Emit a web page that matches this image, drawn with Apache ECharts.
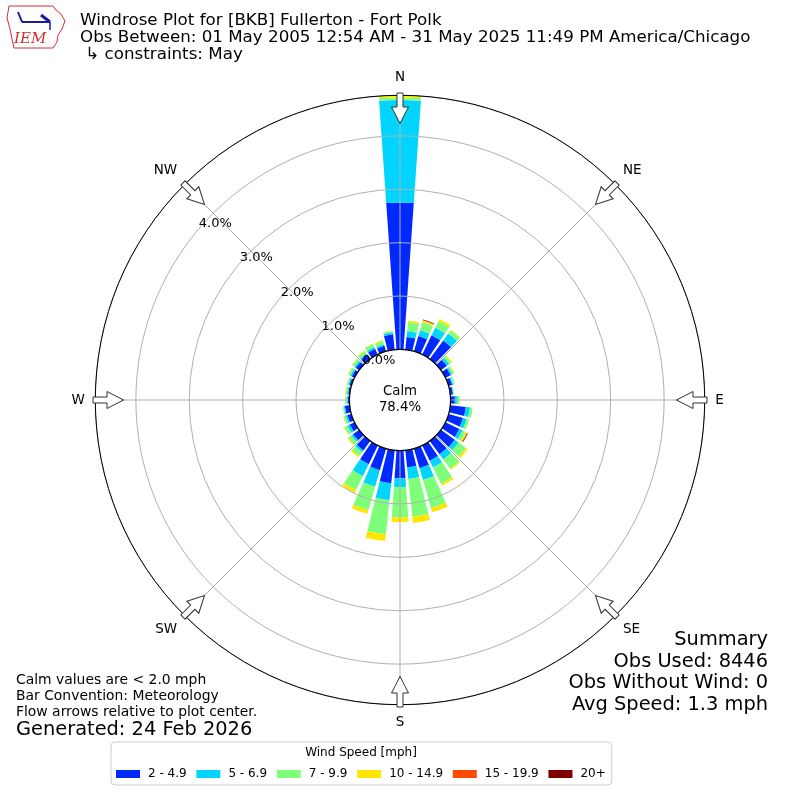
<!DOCTYPE html>
<html><head><meta charset="utf-8">
<script src="https://cdn.jsdelivr.net/npm/echarts/dist/echarts.min.js"></script>
<style>html,body{margin:0;padding:0;background:#fff}#c{width:800px;height:800px}</style>
</head><body><div id="c"></div>
<script>
// ---- data ----
const directionBins = ['0','10','20','30','40','50','60','70','80','90','100','110','120','130','140','150','160','170',
  '180','190','200','210','220','230','240','250','260','270','280','290','300','310','320','330','340','350'];
const speedBins = ['2 - 4.9','5 - 6.9','7 - 9.9','10 - 14.9','15 - 19.9','20+'];
const binColors = ['#0028ff','#00d4ff','#7dff7a','#ffe600','#ff4a00','#800000'];
// percent of observations per direction bin
const spd2to5 = [2.75,0.24,0.30,0.40,0.43,0.14,0.11,0.07,0.05,0.08,0.29,0.28,0.29,0.32,0.31,0.32,0.38,0.32,
  0.52,0.62,0.42,0.39,0.22,0.14,0.10,0.08,0.09,0.03,0.03,0.04,0.06,0.08,0.10,0.12,0.11,0.29];
const spd5to7 = [1.92,0.11,0.11,0.16,0.16,0.05,0.03,0.02,0.01,0.04,0.08,0.07,0.07,0.09,0.12,0.14,0.23,0.22,
  0.16,0.32,0.32,0.25,0.04,0.04,0.05,0.03,0.02,0.02,0.02,0.02,0.03,0.03,0.03,0.04,0.03,0.04];
const spd7to10 = [0.05,0.17,0.16,0.14,0.08,0.05,0.04,0.03,0.01,0.05,0.05,0.05,0.06,0.17,0.22,0.34,0.55,0.71,
  0.57,0.64,0.46,0.29,0.09,0.07,0.06,0.04,0.02,0.03,0.03,0.03,0.04,0.05,0.05,0.06,0.06,0.02];
const spd10to15 = [0.03,0.03,0.03,0.04,0.01,0.02,0.01,0,0,0,0,0,0.03,0.04,0.02,0.04,0.08,0.12,
  0.09,0.13,0.07,0.06,0.03,0.02,0.01,0.01,0,0,0.01,0,0.01,0.01,0.02,0.01,0.02,0.01];
const spd15to20 = [0,0,0.01,0,0,0,0,0,0,0,0,0,0.01,0,0,0,0,0,
  0,0,0,0,0,0,0,0,0,0,0,0,0,0,0,0,0,0];
const spd20plus = [0,0,0.01,0,0,0,0,0,0,0,0,0,0.01,0,0,0,0,0,
  0,0,0,0,0,0,0,0,0,0,0,0,0,0,0,0,0,0];
const seriesValues = [spd2to5, spd5to7, spd7to10, spd10to15, spd15to20, spd20plus];
const ringTicks = [0,1,2,3,4];
const compassLabels = ['N','NE','E','SE','S','SW','W','NW'];
const calmPercent = 78.4;
const titleLines = ['Windrose Plot for [BKB] Fullerton - Fort Polk',
  'Obs Between: 01 May 2005 12:54 AM - 31 May 2025 11:49 PM America/Chicago',
  ' \u21b3 constraints: May'];
const noteLines = ['Calm values are < 2.0 mph','Bar Convention: Meteorology','Flow arrows relative to plot center.'];
const generatedText = 'Generated: 24 Feb 2026';
const summaryLines = ['Summary','Obs Used: 8446','Obs Without Wind: 0','Avg Speed: 1.3 mph'];
const legendTitle = 'Wind Speed [mph]';

// ---- layout ----
const FONT = 'DejaVu Sans';
const CX = 400, CY = 400, R_IN = 50.6, R_OUT = 304.7, R_MAX = 4.76;

const chart = echarts.init(document.getElementById('c'), null, {renderer:'canvas'});

const hideAxis = {axisLine:{show:false},axisTick:{show:false},axisLabel:{show:false},splitLine:{show:false}};

function isTick(v){ return ringTicks.some(t => Math.abs(t - v) < 1e-6); }

// flow arrows
function arrowEl(i){
  const a = i * 45 * Math.PI / 180;
  return {
    type:'polygon', x:CX, y:CY, rotation:-a, z:20, silent:true,
    shape:{points:[[-3,-307],[3,-307],[3,-293],[8.5,-293],[0,-276.5],[-8.5,-293],[-3,-293]]},
    style:{fill:'#ffffff', stroke:'#333333', lineWidth:1}
  };
}
function txt(x, y, text, size, align, lh){
  return {type:'text', x, y, z:20, silent:true,
    style:{text, fontSize:size, fontFamily:FONT, fill:'#000', lineHeight:lh||undefined,
      textAlign:align, align:align, textVerticalAlign:'middle', verticalAlign:'middle'}};
}

const graphics = [];
titleLines.forEach((t,i) => graphics.push(txt(80, 20.5 + i*17.3, t, 16.7, 'left')));
noteLines.forEach((t,i) => graphics.push(txt(16, 680 + i*16, t, 13.9, 'left')));
graphics.push(txt(16, 730, generatedText, 19.4, 'left'));
summaryLines.forEach((t,i) => graphics.push(txt(768, 640 + i*21.7, t, 19.4, 'right')));
graphics.push(txt(CX, CY, 'Calm\n' + calmPercent.toFixed(1) + '%', 13.3, 'center', 16));
graphics.push(txt(361, 753, legendTitle, 12, 'center'));
for (let i = 0; i < 8; i++) graphics.push(arrowEl(i));
// IEM logo (approximate)
graphics.push({type:'polyline', z:20, silent:true,
  shape:{points:[[9,6],[53,6],[56,10],[61,14],[65,21],[62,29],[58,35],[57,42],[53,48],[14,48],[12,39],[10,29],[7,18],[9,6]]},
  style:{stroke:'#d03030', lineWidth:1, fill:null}});
graphics.push({type:'line', z:20, silent:true, shape:{x1:22,y1:22,x2:50,y2:22}, style:{stroke:'#1a1aa0', lineWidth:2}});
graphics.push({type:'line', z:20, silent:true, shape:{x1:22,y1:22,x2:18,y2:12}, style:{stroke:'#1a1aa0', lineWidth:2}});
graphics.push({type:'line', z:20, silent:true, shape:{x1:41,y1:15,x2:50,y2:22}, style:{stroke:'#1a1aa0', lineWidth:3}});
graphics.push({type:'line', z:20, silent:true, shape:{x1:50,y1:22,x2:50,y2:30}, style:{stroke:'#1a1aa0', lineWidth:1.5}});
graphics.push({type:'text', z:20, silent:true, x:14, y:39, style:{text:'IEM', fontSize:15, fontStyle:'italic',
  fontFamily:'DejaVu Serif', fill:'#d03030', textVerticalAlign:'middle', verticalAlign:'middle'}});

const option = {
  animation:false,
  backgroundColor:'#ffffff',
  polar:[
    {center:[CX,CY], radius:[R_IN,R_OUT]},          // 0: bars
    {center:[CX,CY], radius:[R_IN,R_OUT]},          // 1: grid
    {center:[CX+17.7,CY-6.7], radius:[R_IN,R_OUT]}, // 2: ring labels
    {center:[CX,CY], radius:R_IN},                  // 3: calm circle
    {center:[CX,CY], radius:R_OUT}                  // 4: outer circle
  ],
  angleAxis:[
    Object.assign({polarIndex:0, type:'category', data:directionBins, startAngle:95, clockwise:true}, hideAxis),
    {polarIndex:1, type:'value', min:0, max:360, interval:45, startAngle:90, clockwise:true, z:5,
      axisLine:{show:false}, axisTick:{show:false},
      axisLabel:{show:true, margin:10.5, fontSize:13.5, fontFamily:FONT, color:'#000',
        align:'center', verticalAlign:'middle',
        formatter:v => v >= 360 ? '' : compassLabels[Math.round(v/45)]},
      splitLine:{show:true, lineStyle:{color:'#b0b0b0', width:1}}},
    Object.assign({polarIndex:2, type:'value', min:0, max:360, startAngle:140}, hideAxis),
    {polarIndex:3, type:'value', min:0, max:360, startAngle:90, z:6,
      axisLine:{show:true, lineStyle:{color:'#000', width:1.2}}, axisTick:{show:false}, axisLabel:{show:false}, splitLine:{show:false}},
    {polarIndex:4, type:'value', min:0, max:360, startAngle:90, z:6,
      axisLine:{show:true, lineStyle:{color:'#000', width:1}}, axisTick:{show:false}, axisLabel:{show:false}, splitLine:{show:false}}
  ],
  radiusAxis:[
    Object.assign({polarIndex:0, type:'value', min:0, max:R_MAX}, hideAxis),
    {polarIndex:1, type:'value', min:0, max:R_MAX, interval:1, z:5,
      axisLine:{show:false}, axisTick:{show:false}, axisLabel:{show:false},
      splitLine:{show:true, lineStyle:{color:'#b0b0b0', width:1}}},
    {polarIndex:2, type:'value', min:0, max:R_MAX, interval:1, z:6,
      axisLine:{show:false}, axisTick:{show:false}, splitLine:{show:false},
      axisLabel:{show:true, margin:0, rotate:0, fontSize:13, fontFamily:FONT, color:'#000',
        align:'center', verticalAlign:'middle',
        formatter:v => isTick(v) ? v.toFixed(1) + '%' : ''}},
    Object.assign({polarIndex:3, type:'value', min:0, max:1}, hideAxis),
    Object.assign({polarIndex:4, type:'value', min:0, max:1}, hideAxis)
  ],
  legend:{
    data:speedBins, left:111, top:742, orient:'horizontal', selectedMode:false,
    itemWidth:24, itemHeight:8, itemGap:9.7, icon:'rect',
    padding:[26,6,5,5], borderColor:'#cccccc', borderWidth:1, borderRadius:4,
    textStyle:{fontSize:12, fontFamily:FONT, color:'#000', padding:[0,0,0,3]}
  },
  series: speedBins.map((name,k) => ({
    type:'bar', name, coordinateSystem:'polar', polarIndex:0, stack:'wind',
    data:seriesValues[k], barCategoryGap:'20%', z:2, silent:true,
    itemStyle:{color:binColors[k]}
  })),
  graphic:graphics
};
chart.setOption(option);
</script>
</body></html>
